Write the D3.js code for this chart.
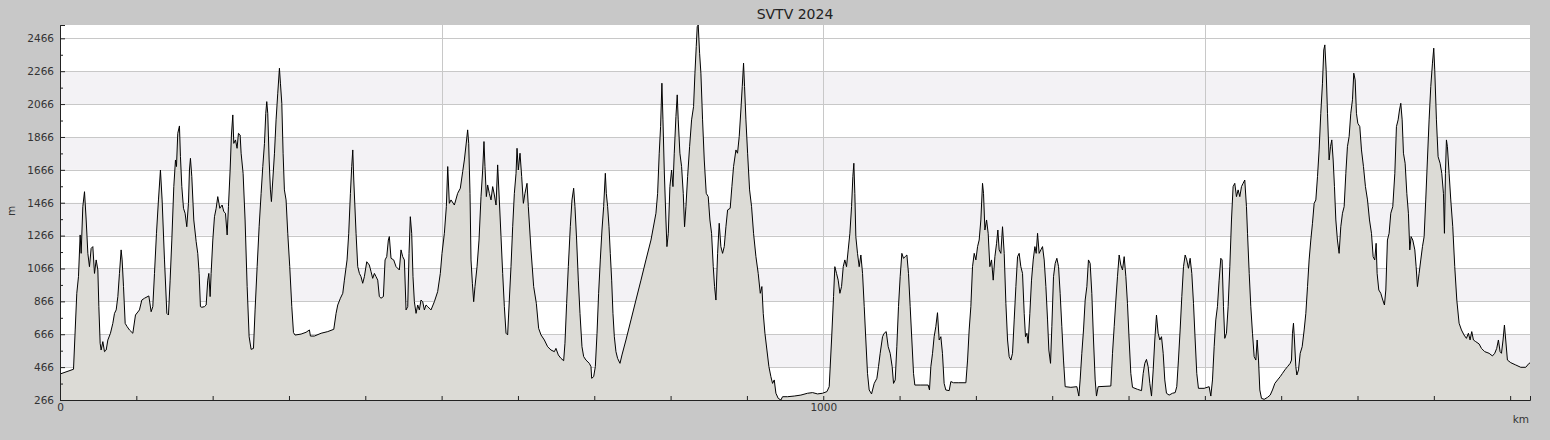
<!DOCTYPE html>
<html>
<head>
<meta charset="utf-8">
<script src="https://cdn.jsdelivr.net/npm/d3@7"></script>
<style>
    body { margin: 0; background: #c8c8c8; }
    svg { display: block; font-family: "DejaVu Sans", sans-serif; }
</style>
</head>
<body>
<div id="chart"></div>
<script>
const chartTitle = "SVTV 2024";
const xUnit = "km";
const yUnit = "m";

// elevation profile, [distance km, elevation m]
const profile = [
    [0,424],[17.7,453],[19.9,692],[22,915],[24.2,1016],[26.4,1270],[27.7,1158],[29.9,1442],[32.1,1533],[34.3,1361],[36.5,1158],[38.6,1077],[40.8,1188],[43,1199],[45.2,1036],[47.4,1118],[49.6,1057],[50.9,834],[52.6,611],[53.9,570],[56.1,621],[58.3,560],[60.5,570],[62.7,631],[66.1,672],[69.2,732],[71.4,793],[73.6,814],[75.8,895],[77.9,1036],[80.1,1179],[81.4,1118],[83.2,956],[85.4,732],[88,712],[91,692],[95.4,672],[98.9,783],[104.1,814],[107.2,874],[110.7,885],[116.4,899],[119.4,803],[121.6,834],[123.8,1036],[126.4,1280],[129,1483],[131.6,1665],[133.8,1483],[136.9,1118],[140,793],[142.1,783],[144.3,995],[146.5,1239],[149.1,1564],[151.3,1726],[152.6,1686],[154.3,1888],[156.5,1933],[157.8,1746],[159.6,1564],[161.8,1432],[163.9,1402],[166.1,1320],[168.3,1462],[169.6,1665],[170.9,1736],[172.7,1625],[175.3,1361],[178.4,1229],[180.5,1158],[182.3,1036],[184,834],[185.8,830],[189.3,834],[191.5,844],[193.6,995],[195,1036],[196.7,895],[198,1036],[200.2,1239],[202.4,1381],[204.6,1432],[206.7,1503],[209.4,1432],[212.4,1452],[214.6,1412],[216.8,1402],[219,1270],[220.7,1442],[222.9,1665],[224.6,1878],[226.4,2000],[227.7,1827],[229.9,1848],[232,1797],[233.8,1888],[236,1878],[237.3,1767],[239.9,1645],[242.5,1361],[245.2,956],[247.8,651],[250.4,574],[253.5,580],[255.6,814],[258.3,1077],[260.9,1320],[263.5,1523],[265.7,1686],[267.9,1827],[269.6,2010],[270.9,2081],[272.2,2010],[274,1726],[275.7,1544],[277,1473],[278.8,1604],[281,1767],[283.1,1970],[285.3,2132],[287.5,2284],[288.8,2193],[290.6,2071],[292.3,1767],[294,1544],[296.2,1483],[298.4,1280],[301,1077],[303.7,834],[305.9,676],[308,661],[315.9,667],[322.4,678],[326.8,692],[328.1,655],[333.3,655],[342.1,672],[350.8,682],[358.7,696],[361.7,793],[363.9,844],[367.4,885],[370.5,915],[372.6,995],[376.1,1118],[378.3,1280],[380.5,1523],[382.2,1686],[383.6,1787],[384.9,1604],
    [387.9,1280],[390.1,1077],[392.3,1036],[394.4,1016],[396.6,976],[398.8,1016],[401.9,1107],[405.3,1087],[407.5,1047],[409.7,1006],[411.9,1036],[414.1,1016],[416.3,995],[418.4,895],[420.6,885],[423.7,895],[425.9,1118],[428.1,1138],[430.2,1239],[431.5,1260],[433.7,1128],[437.2,1118],[440.3,1077],[444.6,1057],[446.8,1179],[449,1138],[451.2,1118],[453.4,814],[455.6,834],[457.3,1158],[459,1381],[460.8,1280],[462.5,1016],[464.3,864],[466.5,793],[468.7,844],[470.8,814],[473,874],[475.2,864],[477.4,814],[479.6,844],[481.8,834],[486.1,814],[490.5,864],[494.8,925],[498.3,1036],[500.5,1158],[503.6,1280],[506.2,1442],[508,1686],[510.1,1462],[512.3,1483],[516.7,1452],[521,1523],[524.5,1554],[527.6,1655],[529.8,1726],[532,1817],[534.1,1909],[535.5,1827],[537.2,1523],[538.5,1118],[540.3,976],[542,864],[543.7,956],[546.4,1077],[549,1239],[551.6,1503],[553.8,1665],[555.5,1838],[556.8,1686],[558.6,1503],[560.3,1574],[562.5,1523],[564.7,1483],[566.9,1564],[569.1,1513],[571.3,1452],[573.4,1696],[575.6,1483],[577.8,1260],[580,1036],[582.2,834],[584.4,672],[586.5,662],[588.7,874],[590.9,1077],[593.1,1320],[595.3,1523],[597.5,1645],[598.8,1797],[600.5,1665],[602.7,1767],[604.9,1625],[607.1,1462],[609.2,1523],[611.9,1584],[613.6,1442],[617.1,1179],[620.6,956],[624.1,854],[627.1,702],[630.2,662],[634.6,631],[638.9,590],[643.3,570],[647.7,560],[649.8,580],[652.9,540],[656.4,519],[659.9,505],[661.6,611],[663.8,854],[666,1077],[668.6,1320],[670.8,1483],[673,1554],[674.7,1442],[676.9,1239],[679.1,995],[681.3,793],[683.9,590],[686.1,530],[689.1,509],[693.5,489],[695.7,469],[696.6,398],[699.2,408],[701.4,469],[703.6,672],[705.7,915],[707.9,1118],[710.1,1300],[712.3,1442],[714.5,1645],[715.8,1523],[717.5,1442],[719.3,1320],[721,1158],[722.8,995],[724.5,793],[726.3,651],[728.4,560],[730.6,519],[733.7,489],[736.3,540],[741.5,631],[748.1,753],[754.6,874],[761.2,995],[767.7,1118],[774.3,1239],
    [780.8,1402],[783,1523],[785.1,1767],[786.9,1929],[788.6,2193],[790,1970],[791.7,1665],[793.9,1361],[795.2,1199],[797,1280],[799.1,1564],[801.3,1665],[803.1,1564],[804.8,1767],[807,1990],[808.7,2122],[810,1970],[812.2,1767],[814.4,1686],[816.6,1523],[818.3,1320],[820.1,1442],[822.3,1625],[824.9,1807],[827.5,1970],[830.1,2051],[831.9,2254],[833.6,2416],[834.9,2537],[836.2,2547],[838,2375],[839.7,2254],[841.9,1970],[844.1,1726],[846.7,1523],[849.3,1503],[851.5,1361],[853.7,1280],[855.9,1077],[857.6,956],[859.4,874],[861.6,1158],[863.7,1341],[865.9,1199],[868.1,1158],[870.3,1199],[872.5,1320],[874.7,1422],[878.1,1432],[880.3,1564],[882.5,1686],[885.6,1787],[887.7,1767],[889.9,1868],[892.1,2030],[893.9,2173],[895.6,2315],[896.9,2173],[898.7,1970],[900.9,1767],[903.5,1544],[906.1,1442],[908.7,1280],[911.8,1138],[914.8,1036],[917.5,915],[919.6,956],[921.4,793],[923.6,672],[926.2,570],[928.8,469],[931.4,408],[933.6,367],[935.8,388],[938,307],[941,276],[944.5,266],[946.7,286],[953.2,286],[962,290],[970.7,296],[979.4,307],[986,311],[992.5,303],[999.1,307],[1004.8,317],[1007.8,347],[1010.9,631],[1013.5,895],[1015.2,1077],[1017.4,1036],[1019.6,995],[1021.8,915],[1024,956],[1026.2,1077],[1028.3,1118],[1030.5,1077],[1032.7,1179],[1034.9,1280],[1037.1,1442],[1038.8,1625],[1040.1,1706],[1041.4,1523],[1042.7,1260],[1044.9,1158],[1047.1,1077],[1049.3,1148],[1051.5,1036],[1053.7,834],[1055.8,631],[1058,428],[1060.2,327],[1063.3,303],[1066.8,367],[1070.3,398],[1072.4,469],[1074.6,550],[1077.7,651],[1079.9,672],[1082.5,682],[1085.1,590],[1087.7,550],[1090.3,469],[1092.1,367],[1094.3,388],[1096.4,590],[1098.6,834],[1100.8,1016],[1103,1158],[1105.2,1128],[1107.4,1138],[1109.6,1148],[1111.7,1036],[1113.9,834],[1116.1,631],[1118.3,428],[1120,357],[1127.9,357],[1137.5,357],[1139.2,327],[1141,469],[1143.2,550],[1145.3,651],[1147.5,712],[1149.7,797],[1151.9,631],[1154.1,651],[1156.2,550],[1158.4,367],[1160.6,327],[1165,323],[1167.2,378],[1170.7,371],[1176.8,371],
    [1186.9,371],[1189.1,509],[1191.2,692],[1193.4,834],[1195.6,1077],[1197.8,1158],[1200,1118],[1202.2,1199],[1204.3,1239],[1206.5,1361],[1208.7,1584],[1210,1523],[1211.8,1300],[1214,1361],[1216.1,1280],[1218.3,1077],[1220.5,1118],[1222.7,995],[1224.9,1138],[1227.1,1219],[1228.8,1300],[1230.5,1179],[1232.7,1158],[1234.9,1320],[1237.1,1158],[1239.3,854],[1241.5,631],[1243.6,530],[1245.8,509],[1248,550],[1250.2,753],[1252.4,956],[1254.6,1138],[1256.7,1158],[1258.9,1077],[1261.1,1036],[1263.3,793],[1265,651],[1266.8,672],[1268.5,611],[1270.7,793],[1272.9,995],[1275.1,1118],[1277.3,1199],[1279,1158],[1280.8,1280],[1282.9,1158],[1285.1,1179],[1287.3,1199],[1289.5,1118],[1291.7,956],[1293.9,753],[1295.6,570],[1297.8,489],[1299.5,712],[1301.7,1016],[1303.9,1097],[1306.1,1128],[1308.3,1077],[1310.4,915],[1312.6,712],[1314.8,509],[1317,347],[1324.4,343],[1332.3,347],[1334.9,290],[1336.6,388],[1338.8,550],[1341,692],[1343.2,874],[1345.4,956],[1347.5,1118],[1349.7,1097],[1351.9,915],[1354.1,631],[1356.3,388],[1358,290],[1360.2,347],[1376.8,351],[1379,550],[1381.2,712],[1383.4,874],[1385.5,1016],[1387.7,1148],[1389.9,1087],[1392.1,1057],[1394.3,1138],[1396.5,1016],[1398.6,854],[1400.8,631],[1403,428],[1405.2,343],[1411.7,331],[1417,323],[1419.2,428],[1421.3,489],[1423.5,513],[1425.7,469],[1427.9,367],[1430.1,290],[1432.3,449],[1434.4,631],[1436.6,783],[1438.8,672],[1441,631],[1443.2,651],[1445.4,550],[1447.5,388],[1449.7,307],[1453.2,296],[1457.6,307],[1461.1,311],[1463.2,347],[1465.4,509],[1467.6,692],[1469.8,895],[1472,1077],[1474.2,1148],[1476.3,1118],[1478.5,1067],[1480.7,1128],[1482.9,1036],[1485.1,854],[1487.3,631],[1489.4,428],[1491.6,337],[1499.1,337],[1505.6,347],[1507.8,290],[1510,388],[1512.2,590],[1514.3,753],[1516.5,834],[1518.7,995],[1520.9,1128],[1522.6,1118],[1524.4,834],[1526.1,641],[1528.3,672],[1530.5,834],[1532.7,1077],[1534.9,1361],[1537,1564],[1539.2,1584],[1541.4,1503],[1543.6,1544],[1545.8,1503],[1548,1564],[1550.1,1584],[1552.3,1604],[1554.5,1442],
    [1555.9,1280],[1558.1,1036],[1560.2,834],[1562.4,672],[1564.6,530],[1566.8,509],[1568.5,631],[1570.3,509],[1572,327],[1574.2,276],[1577.7,270],[1582.1,282],[1585.6,296],[1588.6,327],[1591.7,367],[1595.2,388],[1598.7,408],[1601.7,428],[1604.8,449],[1608.3,469],[1611.8,489],[1613.5,509],[1614.8,672],[1616.1,733],[1617.4,631],[1619.2,469],[1620.5,418],[1622.7,449],[1624.9,550],[1627.5,590],[1630.1,692],[1632.3,793],[1634.5,956],[1636.6,1118],[1638.8,1239],[1641,1341],[1643.2,1462],[1645.4,1483],[1647.6,1625],[1649.7,1787],[1651.9,2010],[1654.1,2193],[1655.8,2395],[1657.2,2426],[1658.9,2274],[1660.7,2010],[1662.8,1726],[1664.6,1807],[1666.3,1848],[1668.1,1726],[1669.8,1564],[1671.6,1361],[1673.7,1239],[1675.9,1158],[1678.1,1320],[1680.3,1402],[1682.5,1442],[1684.7,1645],[1686.8,1807],[1689,1868],[1691.2,2010],[1693.4,2092],[1695.1,2254],[1696.9,2213],[1698.6,2010],[1700.4,1949],[1703,1929],[1705.2,1787],[1707.8,1686],[1710.4,1564],[1713.1,1483],[1715.7,1361],[1718.3,1280],[1720.5,1138],[1722.6,1118],[1724.4,1219],[1725.7,1036],[1727.9,935],[1730.5,915],[1733.1,874],[1735.3,844],[1737.1,935],[1739.2,1239],[1741.4,1280],[1743.6,1402],[1746.2,1442],[1748.9,1645],[1751,1929],[1753.2,1970],[1755,2030],[1756.7,2071],[1758.5,1970],[1760.2,1767],[1762.4,1706],[1764.6,1523],[1766.7,1402],[1768.5,1179],[1770.2,1260],[1772.4,1239],[1775.1,1179],[1776.8,1077],[1778.5,956],[1780.7,1036],[1782.9,1118],[1785.1,1199],[1787.3,1260],[1789.4,1483],[1791.6,1726],[1793.8,1970],[1796,2173],[1798.2,2315],[1799.9,2406],[1801.2,2274],[1803.4,1970],[1805.6,1746],[1808.2,1706],[1810.4,1645],[1812.6,1523],[1813.9,1280],[1815.2,1645],[1816.5,1848],[1817.8,1807],[1820,1645],[1822.2,1483],[1824.8,1320],[1827.4,1077],[1830.1,874],[1833.1,733],[1836.2,692],[1839.6,661],[1842.7,641],[1845.3,672],[1847.5,631],[1849.7,682],[1851.9,631],[1854.9,621],[1859.3,607],[1862.4,580],[1866.7,560],[1872.4,550],[1876.8,534],[1879.8,550],[1882.4,580],[1884.6,631],[1886.8,560],[1888.6,550],[1890.7,631],[1892.5,722],[1894.2,631],[1896.4,509],[1900.8,493],[1907.3,479],[1913.9,465],[1920.4,465],[1924.8,489],[1926,491]
];

const yTicks = [266, 466, 666, 866, 1066, 1266, 1466, 1666, 1866, 2066, 2266, 2466];
const yMinorTicks = [366, 566, 766, 966, 1166, 1366, 1566, 1766, 1966, 2166, 2366];
const xTicks = [0, 100, 200, 300, 400, 500, 600, 700, 800, 900, 1000, 1100, 1200, 1300, 1400, 1500, 1600, 1700, 1800, 1900];
const xTickLabels = [0, 1000];
const xGridLines = [500, 1000, 1500];

const fillColor = "#dcdbd6";
const stripeColor = "#f3f2f5";
const gridColor = "#c8c8c8";

const margin = { top: 25, right: 20, bottom: 40, left: 60 };
const width = 1550 - margin.left - margin.right;
const height = 440 - margin.top - margin.bottom;

const svgRoot = d3.select("#chart")
    .append("svg")
    .attr("width", 1550)
    .attr("height", 440);

svgRoot.append("rect")
    .attr("width", 1550)
    .attr("height", 440)
    .attr("fill", "#c8c8c8");

// title
svgRoot.append("text")
    .attr("x", margin.left + width / 2)
    .attr("y", 19)
    .attr("text-anchor", "middle")
    .attr("font-size", "14px")
    .attr("fill", "#222")
    .text(chartTitle);

const svg = svgRoot.append("g")
    .attr("transform", "translate(" + margin.left + "," + margin.top + ")");

const x = d3.scaleLinear()
    .domain([0, d3.max(profile, d => d[0])])
    .range([0, width]);

const y = d3.scaleLinear()
    .domain(d3.extent(profile, d => d[1]))
    .range([height, 0]);

// plot background + alternating bands
svg.append("rect")
    .attr("width", width)
    .attr("height", height)
    .attr("fill", "#fff");

const bands = d3.pairs(yTicks).filter((p, i) => i % 2 === 1);
svg.selectAll(".band")
    .data(bands)
    .enter().append("rect")
    .attr("class", "band")
    .attr("x", 0)
    .attr("width", width)
    .attr("y", d => y(d[1]))
    .attr("height", d => y(d[0]) - y(d[1]))
    .attr("fill", stripeColor);

// grid lines
svg.selectAll(".hgrid")
    .data(yTicks.slice(1))
    .enter().append("line")
    .attr("class", "hgrid")
    .attr("x1", 0)
    .attr("x2", width)
    .attr("y1", d => Math.round(y(d)) + 0.5)
    .attr("y2", d => Math.round(y(d)) + 0.5)
    .attr("stroke", gridColor);

svg.selectAll(".vgrid")
    .data(xGridLines)
    .enter().append("line")
    .attr("class", "vgrid")
    .attr("x1", d => Math.round(x(d)) + 0.5)
    .attr("x2", d => Math.round(x(d)) + 0.5)
    .attr("y1", 0)
    .attr("y2", height)
    .attr("stroke", gridColor);

// elevation area + outline
const area = d3.area()
    .x(d => x(d[0]))
    .y0(height)
    .y1(d => y(d[1]));

const line = d3.line()
    .x(d => x(d[0]))
    .y(d => y(d[1]));

svg.append("path")
    .datum(profile)
    .attr("d", area)
    .attr("fill", fillColor);

svg.append("path")
    .datum(profile)
    .attr("d", line)
    .attr("fill", "none")
    .attr("stroke", "#000")
    .attr("stroke-width", 1);

// y axis
svg.append("g")
    .call(d3.axisLeft(y).tickValues(yTicks).tickSize(-5).tickPadding(6).tickFormat(d3.format("d")));
svg.append("g")
    .call(d3.axisLeft(y).tickValues(yMinorTicks).tickSize(-3).tickFormat(""));

// x axis
svg.append("g")
    .attr("transform", "translate(0," + height + ")")
    .call(d3.axisBottom(x).tickValues(xTicks).tickSize(-4).tickPadding(4)
        .tickFormat(d => xTickLabels.includes(d) ? d3.format("d")(d) : ""));

svg.selectAll(".domain").attr("stroke", "#222");
svg.selectAll(".tick line").attr("stroke", "#222");
svg.selectAll(".tick text")
    .attr("font-family", "DejaVu Sans, sans-serif")
    .attr("font-size", "10.5px")
    .attr("fill", "#333");

// axis unit labels
svgRoot.append("text")
    .attr("transform", "translate(15,211) rotate(-90)")
    .attr("text-anchor", "middle")
    .attr("font-size", "10.5px")
    .attr("fill", "#333")
    .text(yUnit);

svgRoot.append("text")
    .attr("x", margin.left + width - 1)
    .attr("y", 423)
    .attr("text-anchor", "end")
    .attr("font-size", "10.5px")
    .attr("fill", "#333")
    .text(xUnit);
</script>
</body>
</html>
